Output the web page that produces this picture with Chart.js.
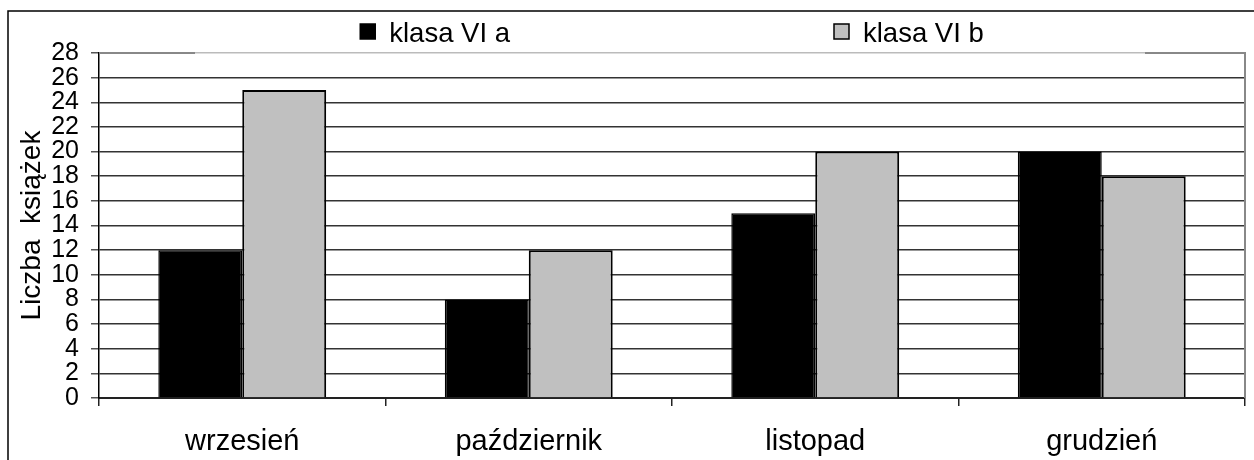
<!DOCTYPE html>
<html>
<head>
<meta charset="utf-8">
<script src="https://cdn.jsdelivr.net/npm/chart.js@4"></script>
<style>
  body { margin: 0; background: #fff; }
  canvas { display: block; }
</style>
</head>
<body>
<canvas id="chart" width="1254" height="460"></canvas>
<script>
const months = ['wrzesień', 'październik', 'listopad', 'grudzień'];
const klasaA = [12, 8, 15, 20];
const klasaB = [25, 12, 20, 18];
const seriesNames = ['klasa VI a', 'klasa VI b'];
const yTicks = [0, 2, 4, 6, 8, 10, 12, 14, 16, 18, 20, 22, 24, 26, 28];
const yTitle = 'Liczba  książek';

const fontFamily = '"Liberation Sans", Arial, sans-serif';

// outer frame, plot border and legend are drawn by hand
const framePlugin = {
    id: 'frame',
    afterDraw: (chart) => {
        const ctx = chart.ctx;
        const area = chart.chartArea;
        ctx.save();
        // outer frame (left + top)
        ctx.strokeStyle = '#000';
        ctx.lineWidth = 1.5;
        ctx.beginPath();
        ctx.moveTo(8, 460);
        ctx.lineTo(8, 11);
        ctx.lineTo(1254, 11);
        ctx.stroke();
        // plot border, the top part is hidden behind the legend box
        ctx.strokeStyle = '#888';
        ctx.lineWidth = 2;
        ctx.beginPath();
        ctx.moveTo(area.left, area.top);
        ctx.lineTo(195, area.top);
        ctx.moveTo(1145, area.top);
        ctx.lineTo(area.right, area.top);
        ctx.lineTo(area.right, area.bottom);
        ctx.stroke();
        // legend
        ctx.font = '27.5px ' + fontFamily;
        const items = chart.data.datasets.map(ds => ({
            text: ds.label,
            color: ds.backgroundColor,
            w: 29 + ctx.measureText(ds.label).width
        }));
        const gap = 324;
        const total = items.reduce((s, it) => s + it.w, 0) + gap * (items.length - 1);
        let x = (area.left + area.right) / 2 - total / 2;
        items.forEach(it => {
            ctx.fillStyle = it.color;
            ctx.fillRect(x, 24, 15, 15);
            ctx.strokeStyle = '#000';
            ctx.lineWidth = 1.5;
            ctx.strokeRect(x, 24, 15, 15);
            ctx.fillStyle = '#000';
            ctx.textBaseline = 'alphabetic';
            ctx.textAlign = 'left';
            ctx.fillText(it.text, x + 29, 42);
            x += it.w + gap;
        });
        ctx.restore();
    }
};

new Chart(document.getElementById('chart').getContext('2d'), {
    type: 'bar',
    data: {
        labels: months,
        datasets: [
            {
                label: seriesNames[0],
                data: klasaA,
                backgroundColor: '#000000',
                borderColor: '#000000',
                borderWidth: 1.5
            },
            {
                label: seriesNames[1],
                data: klasaB,
                backgroundColor: '#c0c0c0',
                borderColor: '#000000',
                borderWidth: 2
            }
        ]
    },
    options: {
        responsive: false,
        animation: false,
        layout: {
            padding: { left: 0, right: 9, top: 53, bottom: 0 }
        },
        plugins: {
            legend: { display: false },
            tooltip: { enabled: false }
        },
        datasets: {
            bar: {
                categoryPercentage: 0.586,
                barPercentage: 1
            }
        },
        scales: {
            x: {
                afterFit: (scale) => { scale.height = 62; },
                grid: {
                    drawOnChartArea: false,
                    drawTicks: true,
                    tickLength: 8,
                    color: '#222',
                    lineWidth: 1.5
                },
                border: { color: '#222', width: 2 },
                ticks: {
                    color: '#000',
                    padding: 19,
                    maxRotation: 0,
                    font: { family: fontFamily, size: 29 }
                }
            },
            y: {
                min: 0,
                max: 28,
                afterFit: (scale) => { scale.width = 99; },
                afterBuildTicks: (scale) => {
                    scale.ticks = yTicks.map(v => ({ value: v }));
                },
                grid: {
                    color: (c) => c.tick && c.tick.value === 28 ? '#bbb' : '#333',
                    lineWidth: 1.5,
                    tickLength: 8,
                    tickColor: '#555'
                },
                border: { color: '#000', width: 1.5 },
                ticks: {
                    color: '#000',
                    padding: 12,
                    autoSkip: false,
                    font: { family: fontFamily, size: 25 }
                },
                title: {
                    display: true,
                    text: yTitle,
                    color: '#000',
                    padding: { top: 15, bottom: 0 },
                    font: { family: fontFamily, size: 28 }
                }
            }
        }
    },
    plugins: [framePlugin]
});
</script>
</body>
</html>
